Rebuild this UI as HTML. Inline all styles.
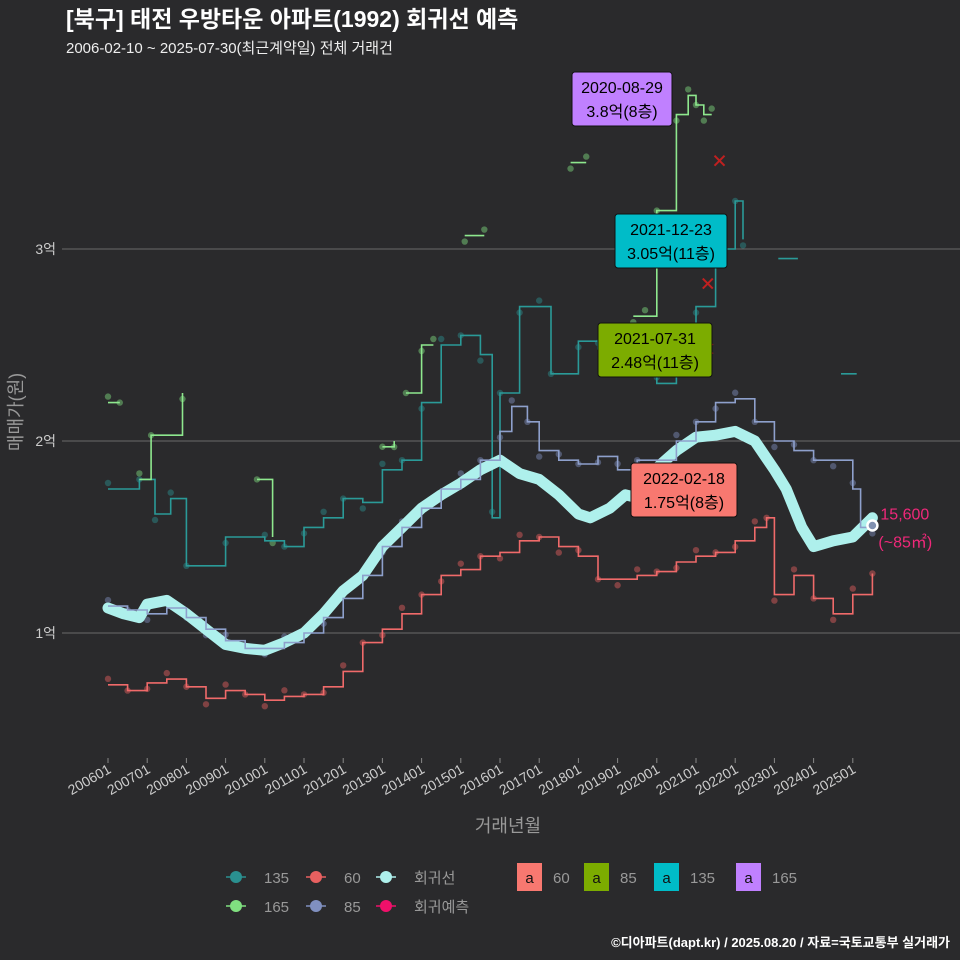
<!DOCTYPE html>
<html><head><meta charset="utf-8"><style>
body{margin:0;background:#2a2a2c;}
svg{display:block;font-family:"Liberation Sans","Noto Sans CJK KR",sans-serif;}
</style></head><body>
<svg id="c" width="960" height="960" viewBox="0 0 960 960">
<rect width="960" height="960" fill="#2a2a2c"/>
<text x="66" y="27" font-size="23" font-weight="bold" fill="#fff">[북구] 태전 우방타운 아파트(1992) 회귀선 예측</text>
<text x="66" y="53" font-size="15" fill="#eee">2006-02-10 ~ 2025-07-30(최근계약일) 전체 거래건</text>
<g id="grid"></g><g id="marks"></g><g id="ann"></g>
<text x="508" y="832" font-size="18" fill="#999" text-anchor="middle">거래년월</text>
<text transform="translate(22,412) rotate(-90)" font-size="18" fill="#999" text-anchor="middle">매매가(원)</text>
<g id="legend" font-size="15" fill="#999"></g>
<text x="950" y="947" font-size="13" font-weight="bold" fill="#fff" text-anchor="end">©디아파트(dapt.kr) / 2025.08.20 / 자료=국토교통부 실거래가</text>
</svg>
<script>
const xTicks=['200601','200701','200801','200901','201001','201101','201201','201301','201401','201501','201601','201701','201801','201901','202001','202101','202201','202301','202401','202501'];
const yTicks=[1,2,3];
const yTickLabels=['1억','2억','3억'];
const s60T=[2006,2006.5,2007,2007.5,2008,2008.5,2009,2009.5,2010,2010.5,2011,2011.5,2012,2012.5,2013,2013.5,2014,2014.5,2015,2015.5,2016,2016.5,2017,2017.5,2018,2018.5,2019,2019.5,2020,2020.5,2021,2021.5,2022,2022.5,2022.8,2023,2023.5,2024,2024.5,2025,2025.5];
const s60V=[0.73,0.7,0.74,0.76,0.72,0.66,0.7,0.68,0.65,0.67,0.68,0.72,0.8,0.95,1.02,1.1,1.2,1.3,1.33,1.4,1.42,1.48,1.5,1.45,1.4,1.28,1.28,1.3,1.32,1.37,1.4,1.42,1.48,1.55,1.6,1.2,1.3,1.18,1.1,1.2,1.31];
const s85T=[2006,2006.5,2007,2007.5,2008,2008.5,2009,2009.5,2010,2010.5,2011,2011.5,2012,2012.5,2013,2013.5,2014,2014.5,2015,2015.5,2016,2016.3,2016.7,2017,2017.5,2018,2018.5,2019,2019.5,2020,2020.5,2021,2021.5,2022,2022.5,2023,2023.5,2024,2024.5,2025,2025.2,2025.5];
const s85V=[1.14,1.12,1.1,1.13,1.08,1.02,0.96,0.92,0.92,0.95,1.0,1.08,1.18,1.3,1.45,1.55,1.65,1.75,1.8,1.9,2.05,2.18,2.1,1.95,1.9,1.88,1.92,1.85,1.9,1.9,2.0,2.1,2.2,2.22,2.1,2.0,1.95,1.9,1.9,1.75,1.55,1.55];
const s135T=[2006,2006.8,2007.2,2007.6,2008,2009,2010,2010.5,2011,2011.5,2012,2012.5,2013,2013.5,2014,2014.5,2015,2015.5,2015.8,2016,2016.5,2017,2017.3,2018,2018.5,2018.8,2019.5,2020,2020.5,2021,2021.5,2022,2022.2];
const s135V=[1.75,1.8,1.62,1.7,1.35,1.5,1.48,1.45,1.55,1.6,1.7,1.68,1.85,1.9,2.2,2.5,2.55,2.45,1.6,2.25,2.7,2.7,2.35,2.52,2.48,2.4,2.4,2.3,2.6,2.7,3.0,3.25,3.05];
const s165T=[2006,2006.3,null,2006.8,2007.1,2007.9,null,2009.8,2010.2,null,2013,2013.3,null,2013.6,2014,2014.3,null,2015.1,2015.6,null,2017.8,2018.2,null,2019.4,2019.7,2020,2020.5,2020.8,2021,2021.2,2021.4];
const s165V=[2.2,2.2,null,1.8,2.03,2.25,null,1.8,1.5,null,1.97,2.0,null,2.25,2.5,2.5,null,3.07,3.07,null,3.45,3.45,null,2.65,2.65,3.2,3.7,3.8,3.75,3.7,3.7];
const s135bT=[null,2023.1,2023.6,null,2024.7,2025.1];
const s135bV=[null,2.95,2.95,null,2.35,2.35];
const regT=[2006,2006.4,2006.8,2007,2007.5,2008,2008.5,2009,2009.5,2010,2010.5,2011,2011.5,2012,2012.5,2013,2013.5,2014,2014.5,2015,2015.5,2016,2016.5,2017,2017.5,2018,2018.3,2018.8,2019.2,2019.6,2020,2020.5,2021,2021.5,2022,2022.5,2023,2023.3,2023.7,2024,2024.5,2025,2025.5];
const regV=[1.13,1.1,1.08,1.15,1.17,1.1,1.02,0.94,0.92,0.91,0.95,1.0,1.1,1.22,1.3,1.45,1.55,1.65,1.72,1.78,1.85,1.9,1.83,1.8,1.72,1.62,1.6,1.65,1.72,1.7,1.86,1.95,2.02,2.03,2.05,2.0,1.85,1.75,1.55,1.45,1.48,1.5,1.6];
const crossT=[2021.3,2021.3,2021.6];const crossV=[2.48,2.82,3.46];
const predT=[2025.5];const predV=[1.56];

const X=t=>108+(t-2006)*39.2, Y=v=>633-(v-1)*192;
const NS='http://www.w3.org/2000/svg';
function el(tag,attrs,parent,txt){const e=document.createElementNS(NS,tag);for(const k in attrs)e.setAttribute(k,attrs[k]);if(txt!=null)e.textContent=txt;parent.appendChild(e);return e;}
const grid=document.getElementById('grid'),marks=document.getElementById('marks'),ann=document.getElementById('ann'),lg=document.getElementById('legend');
yTicks.forEach((v,i)=>{
 const l=el('line',{x1:62,x2:960,y1:Y(v),y2:Y(v),stroke:'#6a6a6a','stroke-width':1},grid);
 
 
 const t=el('text',{x:56,y:Y(v)+5,'font-size':14,fill:'#ccc','text-anchor':'end'},grid,yTickLabels[i]);
 
 
});
xTicks.forEach((lab,i)=>{
 const x=X(2006+i);
 const tk=el('line',{x1:x,x2:x,y1:758,y2:763,stroke:'#888'},grid);
 
 
 const t=el('text',{transform:`translate(${x+4},${772}) rotate(-30)`,'font-size':14,fill:'#ccc','text-anchor':'end'},grid,lab);
 
 
});
function path(T,V){let d='',m=true;for(let i=0;i<T.length;i++){if(T[i]==null){m=true;continue;}d+=(m?'M':'L')+X(T[i]).toFixed(1)+','+Y(V[i]).toFixed(1);m=false;}return d;}
function stepPath(T,V){let d='',m=true,py=0;for(let i=0;i<T.length;i++){if(T[i]==null){m=true;continue;}const x=X(T[i]).toFixed(1),y=Y(V[i]).toFixed(1);if(m)d+='M'+x+','+y;else d+='L'+x+','+py+'L'+x+','+y;py=y;m=false;}return d;}
function dots(T,V,c,name){T.forEach((t,i)=>{if(t==null)return;const d=el('circle',{cx:X(t),cy:Y(V[i])+((i%3)-1)*6,r:3.2,fill:c,opacity:0.45},marks);});}
dots(s60T,s60V,'#e86060','point-60');dots(s85T,s85V,'#8090c0','point-85');dots(s135T,s135V,'#2a9090','point-135');dots(s165T,s165V,'#80e080','point-165');
let p;
p=el('path',{d:stepPath(s135T,s135V),fill:'none',stroke:'#2a9a98','stroke-width':1.6},marks);
p=el('path',{d:stepPath(s135bT,s135bV),fill:'none',stroke:'#2a9a98','stroke-width':1.6},marks);
p=el('path',{d:stepPath(s165T,s165V),fill:'none',stroke:'#8ee88e','stroke-width':1.6},marks);
p=el('path',{d:path(regT,regV),fill:'none',stroke:'#aef0ec','stroke-width':11,'stroke-linejoin':'round','stroke-linecap':'round'},marks);
p=el('path',{d:stepPath(s85T,s85V),fill:'none',stroke:'#8ea0cc','stroke-width':1.6},marks);
p=el('path',{d:stepPath(s60T,s60V),fill:'none',stroke:'#f06a6a','stroke-width':1.6},marks);
crossT.forEach((t,i)=>{const x=X(t),y=Y(crossV[i]);const g=el('path',{d:`M${x-5},${y-5}L${x+5},${y+5}M${x-5},${y+5}L${x+5},${y-5}`,stroke:'#c02020','stroke-width':2},marks);});
predT.forEach((t,i)=>{const c=el('circle',{cx:X(t),cy:Y(predV[i]),r:5,fill:'#8090b0',stroke:'#fff','stroke-width':2.5},marks);
 const a=el('text',{x:X(t)+8,y:Y(predV[i])-6,'font-size':16,fill:'#f0287a'},ann,'15,600');
 const b=el('text',{x:X(t)+6,y:Y(predV[i])+22,'font-size':16,fill:'#f0287a'},ann,'(~85㎡)');});
const labs=[[572,72,100,54,'#c080ff','2020-08-29','3.8억(8층)'],[615,214,112,54,'#00bcc8','2021-12-23','3.05억(11층)'],[598,323,114,54,'#7cac00','2021-07-31','2.48억(11층)'],[631,463,106,54,'#f87870','2022-02-18','1.75억(8층)']];
labs.forEach(l=>{const g=el('g',{},ann);
 el('rect',{x:l[0],y:l[1],width:l[2],height:l[3],rx:3,fill:l[4],stroke:'#111'},g);
 el('text',{x:l[0]+l[2]/2,y:l[1]+21,'font-size':16,fill:'#000','text-anchor':'middle'},g,l[5]);
 el('text',{x:l[0]+l[2]/2,y:l[1]+45,'font-size':16,fill:'#000','text-anchor':'middle'},g,l[6]);});
const leg=[[236,877,'#2a9090','135'],[236,906,'#80e080','165'],[316,877,'#e86060','60'],[316,906,'#8090c0','85'],[386,877,'#aef0ec','회귀선'],[386,906,'#f0106a','회귀예측']];
leg.forEach(l=>{const g=el('g',{},lg);
 el('line',{x1:l[0]-10,x2:l[0]+10,y1:l[1],y2:l[1],stroke:l[2],'stroke-width':1.5},g);
 el('circle',{cx:l[0],cy:l[1],r:6,fill:l[2]},g);
 el('text',{x:l[0]+28,y:l[1]+6,'font-size':15,fill:'#999'},g,l[3]);});
const leg2=[[517,'#f87870','60'],[584,'#7cac00','85'],[654,'#00bcc8','135'],[736,'#c080ff','165']];
leg2.forEach(l=>{const g=el('g',{},lg);
 el('rect',{x:l[0],y:863,width:25,height:28,fill:l[1]},g);
 el('text',{x:l[0]+12.5,y:883,'font-size':15,fill:'#111','text-anchor':'middle'},g,'a');
 el('text',{x:l[0]+36,y:883,'font-size':15,fill:'#999'},g,l[2]);});
</script>
</body></html>
